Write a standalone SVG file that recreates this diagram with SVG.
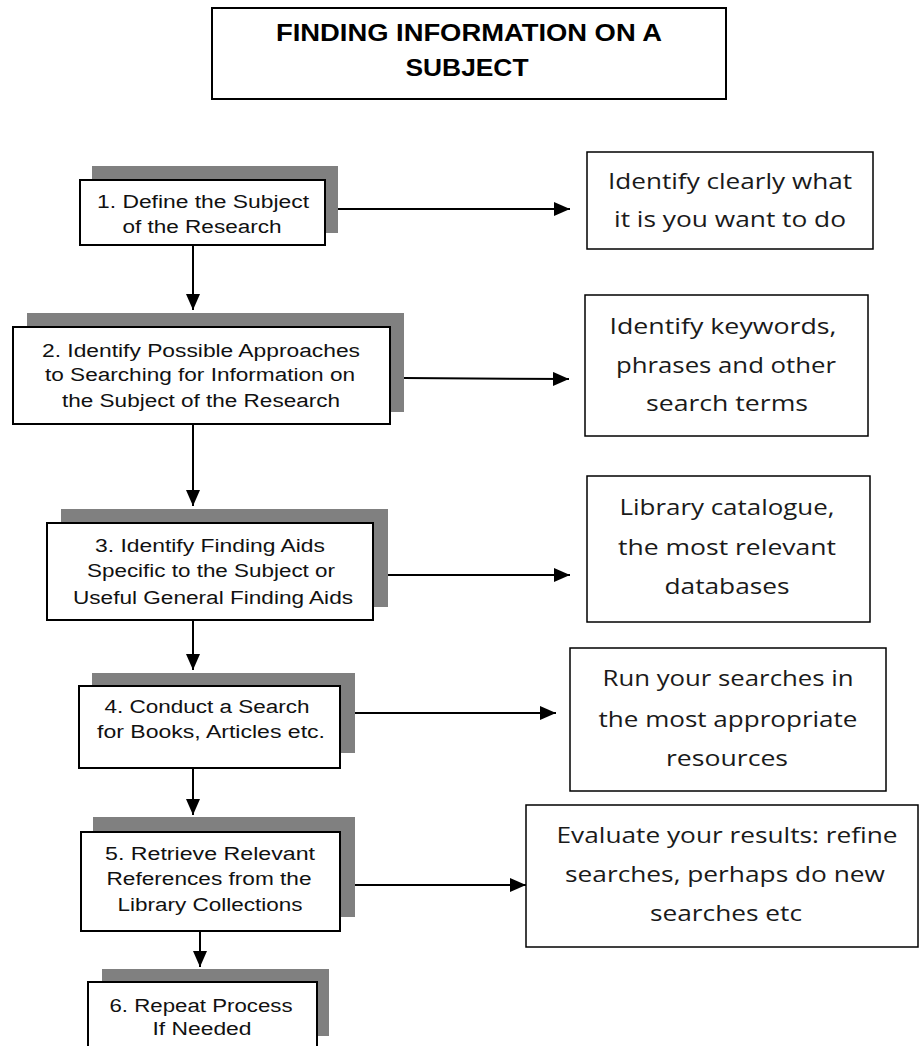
<svg xmlns="http://www.w3.org/2000/svg" width="919" height="1046" viewBox="0 0 919 1046">
<defs>
<style>
.shadow{fill:#808080;}
.box{fill:#fff;stroke:#000;stroke-width:2;}
.rbox{fill:#fff;stroke:#000;stroke-width:1.5;}
.conn{stroke:#000;stroke-width:2;fill:none;}
.nt{font-family:"Liberation Sans",Arial,sans-serif;font-size:18px;fill:#111;text-anchor:middle;}
.rt{font-family:"Open Sans","Noto Sans",sans-serif;font-size:22.5px;fill:#1a1a1a;text-anchor:middle;}
.tt{font-family:"Liberation Sans",Arial,sans-serif;font-size:23.5px;font-weight:bold;fill:#000;text-anchor:middle;}
</style>
<marker id="ah" viewBox="0 0 16 14" refX="16" refY="7" markerWidth="16" markerHeight="14" markerUnits="userSpaceOnUse" orient="auto">
<path d="M0,0 L16,7 L0,14 Z" fill="#000"/>
</marker>
</defs>
<rect width="919" height="1046" fill="#fff"/>

<g id="title">
<rect x="212" y="8" width="514" height="91" fill="#fff" stroke="#000" stroke-width="2"/>
<text class="tt" x="469" y="41" textLength="386" lengthAdjust="spacingAndGlyphs">FINDING INFORMATION ON A</text>
<text class="tt" x="467" y="76" textLength="123" lengthAdjust="spacingAndGlyphs">SUBJECT</text>
</g>

<g id="connectors">
<line class="conn" x1="338" y1="209" x2="570" y2="209" marker-end="url(#ah)"/>
<line class="conn" x1="404" y1="378" x2="569" y2="379" marker-end="url(#ah)"/>
<line class="conn" x1="388" y1="575" x2="570" y2="575" marker-end="url(#ah)"/>
<line class="conn" x1="355" y1="713" x2="556" y2="713" marker-end="url(#ah)"/>
<line class="conn" x1="355" y1="885" x2="526" y2="885" marker-end="url(#ah)"/>
<line class="conn" x1="193" y1="246" x2="193" y2="310" marker-end="url(#ah)"/>
<line class="conn" x1="193" y1="424" x2="193" y2="506" marker-end="url(#ah)"/>
<line class="conn" x1="193" y1="620" x2="193" y2="670" marker-end="url(#ah)"/>
<line class="conn" x1="193" y1="768" x2="193" y2="815" marker-end="url(#ah)"/>
<line class="conn" x1="200" y1="932" x2="200" y2="967" marker-end="url(#ah)"/>
</g>

<g id="step1">
<rect class="shadow" x="92" y="166" width="246" height="67"/>
<rect class="box" x="80" y="180" width="245" height="65"/>
<text class="nt" x="203" y="208" textLength="212" lengthAdjust="spacingAndGlyphs">1. Define the Subject</text>
<text class="nt" x="202" y="233" textLength="159" lengthAdjust="spacingAndGlyphs">of the Research</text>
</g>

<g id="step2">
<rect class="shadow" x="27" y="313" width="377" height="99"/>
<rect class="box" x="13" y="327" width="377" height="97"/>
<text class="nt" x="201" y="357" textLength="318" lengthAdjust="spacingAndGlyphs">2. Identify Possible Approaches</text>
<text class="nt" x="200" y="381" textLength="310" lengthAdjust="spacingAndGlyphs">to Searching for Information on</text>
<text class="nt" x="201" y="407" textLength="278" lengthAdjust="spacingAndGlyphs">the Subject of the Research</text>
</g>

<g id="step3">
<rect class="shadow" x="61" y="509" width="327" height="98"/>
<rect class="box" x="47" y="523" width="326" height="97"/>
<text class="nt" x="210" y="552" textLength="230" lengthAdjust="spacingAndGlyphs">3. Identify Finding Aids</text>
<text class="nt" x="211" y="577" textLength="248" lengthAdjust="spacingAndGlyphs">Specific to the Subject or</text>
<text class="nt" x="213" y="604" textLength="280" lengthAdjust="spacingAndGlyphs">Useful General Finding Aids</text>
</g>

<g id="step4">
<rect class="shadow" x="92" y="673" width="263" height="80"/>
<rect class="box" x="79" y="686" width="261" height="82"/>
<text class="nt" x="207" y="713" textLength="205" lengthAdjust="spacingAndGlyphs">4. Conduct a Search</text>
<text class="nt" x="211" y="738" textLength="228" lengthAdjust="spacingAndGlyphs">for Books, Articles etc.</text>
</g>

<g id="step5">
<rect class="shadow" x="93" y="817" width="262" height="100"/>
<rect class="box" x="81" y="832" width="259" height="99"/>
<text class="nt" x="210" y="860" textLength="210" lengthAdjust="spacingAndGlyphs">5. Retrieve Relevant</text>
<text class="nt" x="209" y="885" textLength="205" lengthAdjust="spacingAndGlyphs">References from the</text>
<text class="nt" x="210" y="911" textLength="185" lengthAdjust="spacingAndGlyphs">Library Collections</text>
</g>

<g id="step6">
<rect class="shadow" x="102" y="969" width="227" height="67"/>
<rect class="box" x="88" y="982" width="229" height="80"/>
<text class="nt" x="201" y="1012" textLength="183" lengthAdjust="spacingAndGlyphs">6. Repeat Process</text>
<text class="nt" x="202" y="1035" textLength="99" lengthAdjust="spacingAndGlyphs">If Needed</text>
</g>

<g id="note1">
<rect class="rbox" x="587" y="152" width="286" height="97"/>
<text class="rt" x="730" y="189" textLength="244" lengthAdjust="spacingAndGlyphs">Identify clearly what</text>
<text class="rt" x="730" y="227" textLength="232" lengthAdjust="spacingAndGlyphs">it is you want to do</text>
</g>

<g id="note2">
<rect class="rbox" x="585" y="295" width="283" height="141"/>
<text class="rt" x="723" y="334" textLength="227" lengthAdjust="spacingAndGlyphs">Identify keywords,</text>
<text class="rt" x="726" y="373" textLength="220" lengthAdjust="spacingAndGlyphs">phrases and other</text>
<text class="rt" x="727" y="411" textLength="162" lengthAdjust="spacingAndGlyphs">search terms</text>
</g>

<g id="note3">
<rect class="rbox" x="587" y="476" width="283" height="146"/>
<text class="rt" x="727" y="515" textLength="215" lengthAdjust="spacingAndGlyphs">Library catalogue,</text>
<text class="rt" x="727" y="555" textLength="218" lengthAdjust="spacingAndGlyphs">the most relevant</text>
<text class="rt" x="727" y="594" textLength="125" lengthAdjust="spacingAndGlyphs">databases</text>
</g>

<g id="note4">
<rect class="rbox" x="570" y="648" width="316" height="143"/>
<text class="rt" x="728" y="686" textLength="251" lengthAdjust="spacingAndGlyphs">Run your searches in</text>
<text class="rt" x="728" y="727" textLength="259" lengthAdjust="spacingAndGlyphs">the most appropriate</text>
<text class="rt" x="727" y="766" textLength="122" lengthAdjust="spacingAndGlyphs">resources</text>
</g>

<g id="note5">
<rect class="rbox" x="526" y="805" width="392" height="142"/>
<text class="rt" x="727" y="843" textLength="341" lengthAdjust="spacingAndGlyphs">Evaluate your results: refine</text>
<text class="rt" x="725" y="882" textLength="320" lengthAdjust="spacingAndGlyphs">searches, perhaps do new</text>
<text class="rt" x="726" y="921" textLength="152" lengthAdjust="spacingAndGlyphs">searches etc</text>
</g>
</svg>
